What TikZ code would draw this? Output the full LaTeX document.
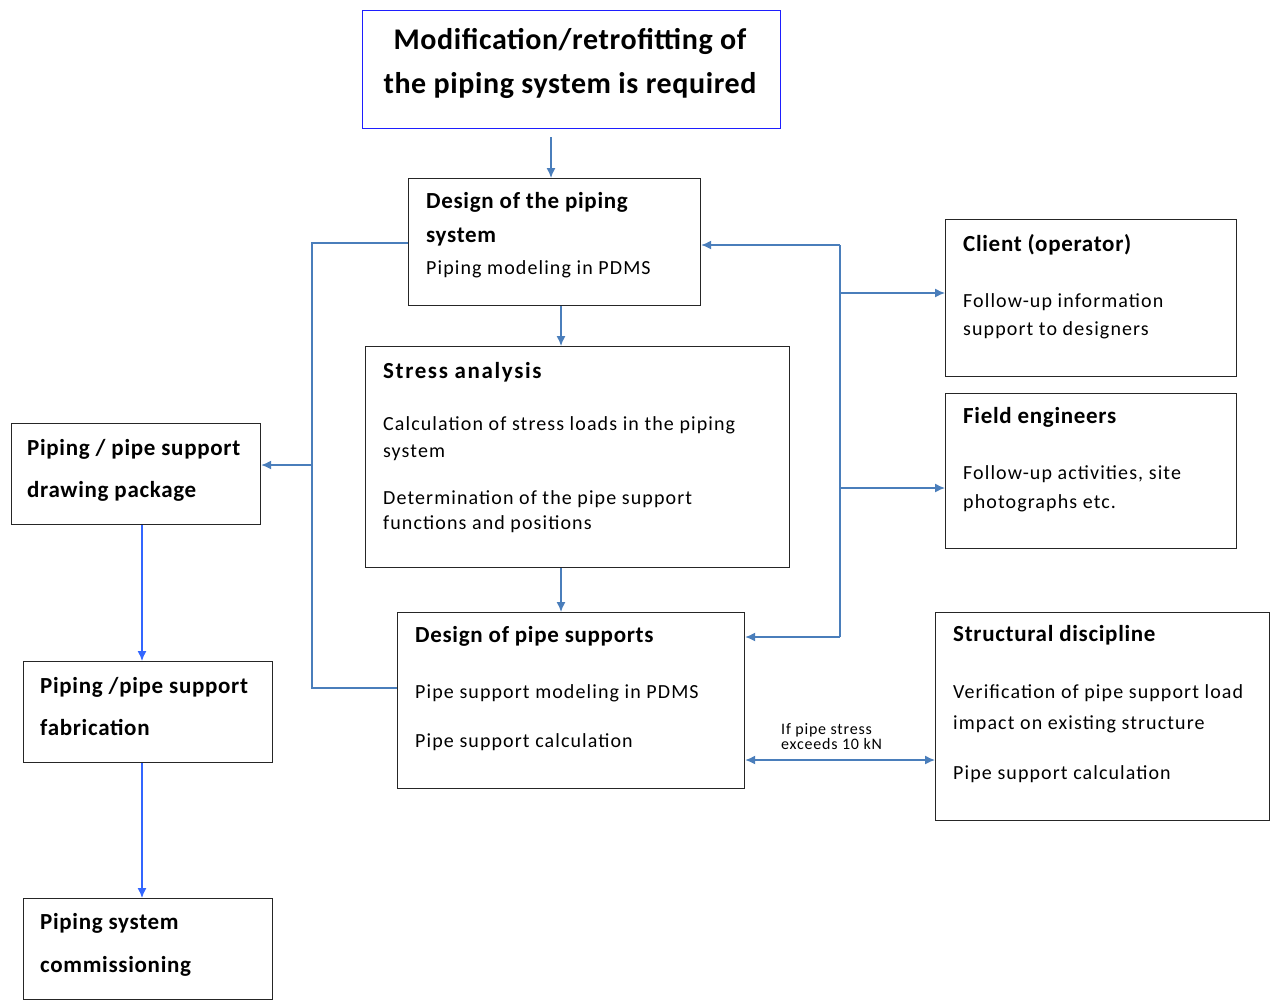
\documentclass[tikz,border=0pt]{standalone}
\usepackage{fontspec}
\setmainfont{Carlito}
\newfontfamily\bodyfont[LetterSpace=5.5]{Carlito}
\newfontfamily\headfont[LetterSpace=3,BoldFont={Carlito Bold}]{Carlito}
\newfontfamily\wideheadfont[LetterSpace=7,BoldFont={Carlito Bold}]{Carlito}
\newfontfamily\titlefont[LetterSpace=2,BoldFont={Carlito Bold}]{Carlito}
\newfontfamily\notefont[LetterSpace=5]{Carlito}
\usetikzlibrary{arrows.meta}
\definecolor{linkblue}{RGB}{74,126,187}
\definecolor{brightblue}{RGB}{51,102,255}
\definecolor{framblue}{RGB}{30,30,255}
\tikzset{
  box/.style={draw=black!85, line width=1.2pt, anchor=north west, inner sep=0pt},
  txt/.style={anchor=west, inner sep=0pt, text height=0.75em, text depth=0.25em, yshift=-4.5pt},
  hd/.style={txt, font=\fontsize{23}{26}\headfont\bfseries},
  hdw/.style={txt, font=\fontsize{23}{26}\wideheadfont\bfseries},
  bd/.style={txt, font=\fontsize{20}{22}\bodyfont},
  link/.style={draw=linkblue, line width=1.4pt},
  flow/.style={link, -{Latex[length=10pt,width=9pt]}},
  flow2/.style={link, {Latex[length=10pt,width=9pt]}-{Latex[length=10pt,width=9pt]}},
  down/.style={draw=brightblue, line width=1.4pt, -{Latex[length=10pt,width=9pt]}}
}
\begin{document}
\begin{tikzpicture}[x=1pt,y=-1pt]
\useasboundingbox[fill=white] (0,0) rectangle (1271,999);

% boxes
\node[box, draw=framblue, minimum width=418pt, minimum height=118pt] (top) at (362,10) {};
\node[box, minimum width=292pt, minimum height=127pt] (design) at (408,178) {};
\node[box, minimum width=424pt, minimum height=221pt] (stress) at (365,346) {};
\node[box, minimum width=347pt, minimum height=176pt] (supports) at (397,612) {};
\node[box, minimum width=249pt, minimum height=101pt] (drawing) at (11,423) {};
\node[box, minimum width=249pt, minimum height=101pt] (fab) at (23,661) {};
\node[box, minimum width=249pt, minimum height=101pt] (comm) at (23,898) {};
\node[box, minimum width=291pt, minimum height=157pt] (client) at (945,219) {};
\node[box, minimum width=291pt, minimum height=155pt] (field) at (945,393) {};
\node[box, minimum width=334pt, minimum height=208pt] (struct) at (935,612) {};

% texts
\node[anchor=center, inner sep=0pt, align=center, font=\fontsize{30}{44}\titlefont\bfseries]
  (toptxt) at (570,63) {Modification/retrofitting of\\the piping system is required};

\node[hd] (d1) at (426,201) {Design of the piping};
\node[hd] (d2) at (426,235) {system};
\node[bd] (d3) at (426,267) {Piping modeling in PDMS};

\node[hdw] (s1) at (383,371) {Stress analysis};
\node[bd] (s2) at (383,423) {Calculation of stress loads in the piping};
\node[bd] (s3) at (383,450) {system};
\node[bd] (s4) at (383,497) {Determination of the pipe support};
\node[bd] (s5) at (383,522) {functions and positions};

\node[hd] (p1) at (415,635) {Design of pipe supports};
\node[bd] (p2) at (415,691) {Pipe support modeling in PDMS};
\node[bd] (p3) at (415,740) {Pipe support calculation};

\node[hd] (w1) at (27,448) {Piping / pipe support};
\node[hd] (w2) at (27,490) {drawing package};

\node[hd] (f1) at (40,686) {Piping /pipe support};
\node[hd] (f2) at (40,728) {fabrication};

\node[hd] (c1) at (40,922) {Piping system};
\node[hd] (c2) at (40,965) {commissioning};

\node[hd] (k1) at (963,244) {Client (operator)};
\node[bd] (k2) at (963,300) {Follow-up information};
\node[bd] (k3) at (963,328) {support to designers};

\node[hd] (e1) at (963,416) {Field engineers};
\node[bd] (e2) at (963,472) {Follow-up activities, site};
\node[bd] (e3) at (963,501) {photographs etc.};

\node[hd] (t1) at (953,634) {Structural discipline};
\node[bd] (t2) at (953,691) {Verification of pipe support load};
\node[bd] (t3) at (953,722) {impact on existing structure};
\node[bd] (t4) at (953,772) {Pipe support calculation};

\node[anchor=west, inner sep=0pt, align=left, font=\fontsize{16}{15}\notefont]
  (cond) at (781,737) {If pipe stress\\exceeds 10 kN};

% junction points of the feedback lines
\coordinate (lj) at (312,465);
\coordinate (rtop) at (840,245);
\coordinate (rbot) at (840,637);
\coordinate (topout) at (551,137);

% main vertical flow
\draw[flow] (topout) -- (design.north -| topout);
\draw[flow] (design.south -| 561,0) -- (stress.north -| 561,0);
\draw[flow] (stress.south -| 561,0) -- (supports.north -| 561,0);

% left loop to the drawing package
\draw[link] (design.west |- 0,243) -| (312,688) -- (supports.west |- 0,688);
\draw[flow] (lj) -- (drawing.east |- lj);

% right loop with the external parties
\draw[link] (rtop) -- (rbot);
\draw[flow] (rtop) -- (design.east |- rtop);
\draw[flow] (rbot) -- (supports.east |- rbot);
\draw[flow] (840,293) -- (client.west |- 0,293);
\draw[flow] (840,488) -- (field.west |- 0,488);

% structural check
\draw[flow2] (supports.east |- 0,760) -- (struct.west |- 0,760);

% fabrication chain
\draw[down] (drawing.south -| 142,0) -- (fab.north -| 142,0);
\draw[down] (fab.south -| 142,0) -- (comm.north -| 142,0);
\end{tikzpicture}
\end{document}
